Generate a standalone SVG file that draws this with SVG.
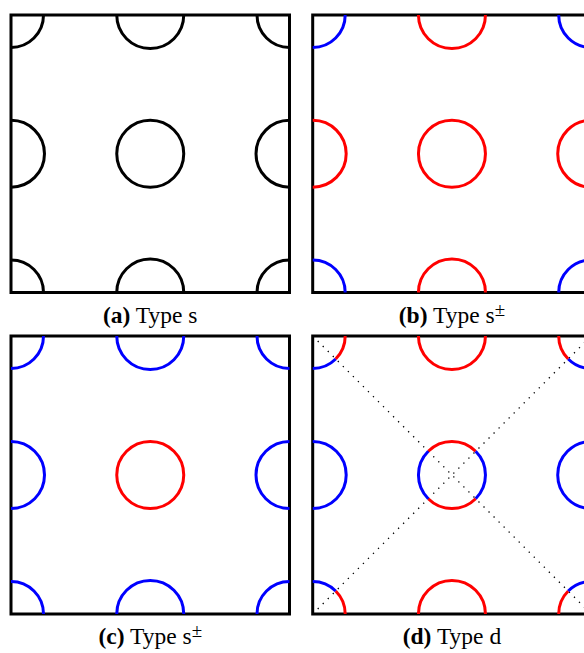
<svg xmlns="http://www.w3.org/2000/svg" width="584" height="653" viewBox="0 0 584 653">
<style>
.frame{fill:none;stroke:#000;stroke-width:3}
.k{fill:none;stroke:#000;stroke-width:3}
.r{fill:none;stroke:#ff0000;stroke-width:3}
.b{fill:none;stroke:#0000ff;stroke-width:3}
.dot{fill:none;stroke:#000;stroke-width:1.3;stroke-dasharray:1.3 5.8}
.lbl{font-family:"Liberation Serif","Times New Roman",serif;font-size:23.5px;fill:#000;text-anchor:middle}
.bold{font-weight:bold}
.sup{font-size:19px}
</style>
<rect width="584" height="653" fill="#fff"/>
<g id="panel-a">
<rect class="frame" x="11" y="15" width="278.5" height="277.5"/>
<path class="k" d="M43.5,15 A32.5,32.5 0 0 1 11,47.5"/>
<path class="k" d="M257,15 A32.5,32.5 0 0 0 289.5,47.5"/>
<path class="k" d="M43.5,292.5 A32.5,32.5 0 0 0 11,260"/>
<path class="k" d="M257,292.5 A32.5,32.5 0 0 1 289.5,260"/>
<path class="k" d="M116.75,15 A33.5,33.5 0 0 0 183.75,15"/>
<path class="k" d="M116.75,292.5 A33.5,33.5 0 0 1 183.75,292.5"/>
<path class="k" d="M11,120.25 A33.5,33.5 0 0 1 11,187.25"/>
<path class="k" d="M289.5,120.25 A33.5,33.5 0 0 0 289.5,187.25"/>
<circle class="k" cx="150.25" cy="153.75" r="33.5"/>
<text class="lbl" x="150.25" y="322.5"><tspan class="bold">(a)</tspan> Type s</text>
</g>
<g id="panel-b">
<rect class="frame" x="312.7" y="15" width="278.5" height="277.5"/>
<path class="b" d="M345.2,15 A32.5,32.5 0 0 1 312.7,47.5"/>
<path class="b" d="M558.7,15 A32.5,32.5 0 0 0 591.2,47.5"/>
<path class="b" d="M345.2,292.5 A32.5,32.5 0 0 0 312.7,260"/>
<path class="b" d="M558.7,292.5 A32.5,32.5 0 0 1 591.2,260"/>
<path class="r" d="M418.45,15 A33.5,33.5 0 0 0 485.45,15"/>
<path class="r" d="M418.45,292.5 A33.5,33.5 0 0 1 485.45,292.5"/>
<path class="r" d="M312.7,120.25 A33.5,33.5 0 0 1 312.7,187.25"/>
<path class="r" d="M591.2,120.25 A33.5,33.5 0 0 0 591.2,187.25"/>
<circle class="r" cx="451.95" cy="153.75" r="33.5"/>
<text class="lbl" x="451.95" y="322.5"><tspan class="bold">(b)</tspan> Type s<tspan class="sup" dy="-7">±</tspan></text>
</g>
<g id="panel-c">
<rect class="frame" x="11" y="336" width="278.5" height="278"/>
<path class="b" d="M43.5,336 A32.5,32.5 0 0 1 11,368.5"/>
<path class="b" d="M257,336 A32.5,32.5 0 0 0 289.5,368.5"/>
<path class="b" d="M43.5,614 A32.5,32.5 0 0 0 11,581.5"/>
<path class="b" d="M257,614 A32.5,32.5 0 0 1 289.5,581.5"/>
<path class="b" d="M116.75,336 A33.5,33.5 0 0 0 183.75,336"/>
<path class="b" d="M116.75,614 A33.5,33.5 0 0 1 183.75,614"/>
<path class="b" d="M11,441.5 A33.5,33.5 0 0 1 11,508.5"/>
<path class="b" d="M289.5,441.5 A33.5,33.5 0 0 0 289.5,508.5"/>
<circle class="r" cx="150.25" cy="475" r="33.5"/>
<text class="lbl" x="150.25" y="644"><tspan class="bold">(c)</tspan> Type s<tspan class="sup" dy="-7">±</tspan></text>
</g>
<g id="panel-d">
<rect class="frame" x="312.7" y="336" width="278.5" height="278"/>
<line class="dot" x1="312.7" y1="336" x2="591.2" y2="614"/>
<line class="dot" x1="312.7" y1="614" x2="591.2" y2="336"/>
<path class="r" d="M345.2,336 A32.5,32.5 0 0 1 335.68,358.98"/>
<path class="b" d="M335.68,358.98 A32.5,32.5 0 0 1 312.7,368.5"/>
<path class="r" d="M558.7,336 A32.5,32.5 0 0 0 568.22,358.98"/>
<path class="b" d="M568.22,358.98 A32.5,32.5 0 0 0 591.2,368.5"/>
<path class="r" d="M345.2,614 A32.5,32.5 0 0 0 335.68,591.02"/>
<path class="b" d="M335.68,591.02 A32.5,32.5 0 0 0 312.7,581.5"/>
<path class="r" d="M558.7,614 A32.5,32.5 0 0 1 568.22,591.02"/>
<path class="b" d="M568.22,591.02 A32.5,32.5 0 0 1 591.2,581.5"/>
<path class="r" d="M418.45,336 A33.5,33.5 0 0 0 485.45,336"/>
<path class="r" d="M418.45,614 A33.5,33.5 0 0 1 485.45,614"/>
<path class="b" d="M312.7,441.5 A33.5,33.5 0 0 1 312.7,508.5"/>
<path class="b" d="M591.2,441.5 A33.5,33.5 0 0 0 591.2,508.5"/>
<path class="r" d="M428.26,451.31 A33.5,33.5 0 0 1 475.64,451.31"/>
<path class="b" d="M475.64,451.31 A33.5,33.5 0 0 1 475.64,498.69"/>
<path class="r" d="M475.64,498.69 A33.5,33.5 0 0 1 428.26,498.69"/>
<path class="b" d="M428.26,498.69 A33.5,33.5 0 0 1 428.26,451.31"/>
<text class="lbl" x="451.95" y="644"><tspan class="bold">(d)</tspan> Type d</text>
</g>
</svg>
